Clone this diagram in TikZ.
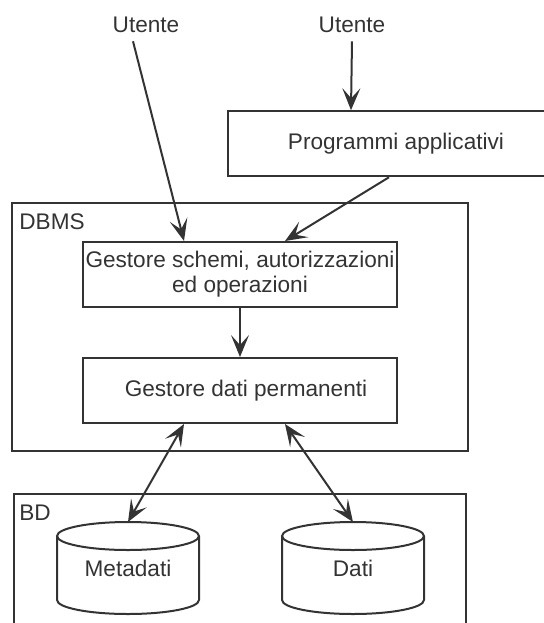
\documentclass[tikz,border=0pt]{standalone}
\usepackage{fontspec}
\setmainfont{Liberation Sans}
\usetikzlibrary{arrows.meta,calc}

\tikzset{
    boxstyle/.style={draw=linecolor, line width=1pt, text=linecolor, font=\fontsize{11.3}{12.5}\selectfont, align=center},
    lblstyle/.style={text=linecolor, font=\fontsize{11.3}{12.5}\selectfont, inner sep=0pt},
    arr/.style={draw=linecolor, line width=1pt, -{Stealth[length=11pt, width=9pt, inset=5pt]}},
    dblarr/.style={draw=linecolor, line width=1pt, {Stealth[length=11pt, width=9pt, inset=5pt]}-{Stealth[length=11pt, width=9pt, inset=5pt]}},
    frame/.style={draw=linecolor, line width=1pt}
}

\begin{document}
\begin{tikzpicture}[x=0.5pt, y=-0.5pt]
    % Define colors
    \definecolor{linecolor}{RGB}{51,51,51}

    \useasboundingbox (0,0) rectangle (544,623);

    % Users on top
    \node[lblstyle] (utenteA) at (146,25) {Utente};
    \node[lblstyle] (utenteB) at (352,25) {Utente};

    % Application programs (box runs off the right edge)
    \node[boxstyle, minimum width=168pt, minimum height=32.5pt] (prog) at (396,143.75) {Programmi applicativi};

    % DBMS frame
    \draw[frame] (12,203) rectangle (468,451);
    \node[lblstyle, anchor=west] (dbms) at (19,222) {DBMS};
    \node[boxstyle, minimum width=157pt, minimum height=32.5pt, inner sep=0pt] (gss) at (240,274.5) {Gestore schemi, autorizzazioni\\ed operazioni};
    \node[boxstyle, minimum width=157pt, minimum height=32.5pt] (gdp) at (240,390.5) {\hspace{6pt}Gestore dati permanenti};

    % BD frame (runs off the bottom edge)
    \draw[frame] (14,640) -- (14,494) -- (466,494) -- (466,640);
    \node[lblstyle, anchor=west] (bd) at (19,513) {BD};

    % Cylinders
    \foreach \cx/\name/\txt in {128/meta/Metadati, 353/dati/Dati}
        {
        \draw[frame] (\cx,536) ellipse [x radius=71, y radius=14];
        \draw[frame] (\cx-71,536) -- (\cx-71,600) arc[start angle=180, end angle=0, x radius=71, y radius=14] -- (\cx+71,536);
        \coordinate (\name top) at (\cx,522);
        \node[lblstyle] (\name) at (\cx,568) {\txt};
    }

    % Connectors
    \draw[arr] ($(utenteA.south)+(-13,8)$) -- ($(gss.north west)+(102,0)$);
    \draw[arr] ($(utenteB.south)+(0,8)$) -- ($(prog.north west)+(124,0)$);
    \draw[arr] ($(prog.south west)+(162,0)$) -- ($(gss.north west)+(203,0)$);
    \draw[arr, line width=0.8pt] (gss.south) -- (gdp.north);
    \draw[dblarr] ($(gdp.south west)+(102,0)$) -- (metatop);
    \draw[dblarr] ($(gdp.south west)+(203,0)$) -- (datitop);
\end{tikzpicture}
\end{document}
